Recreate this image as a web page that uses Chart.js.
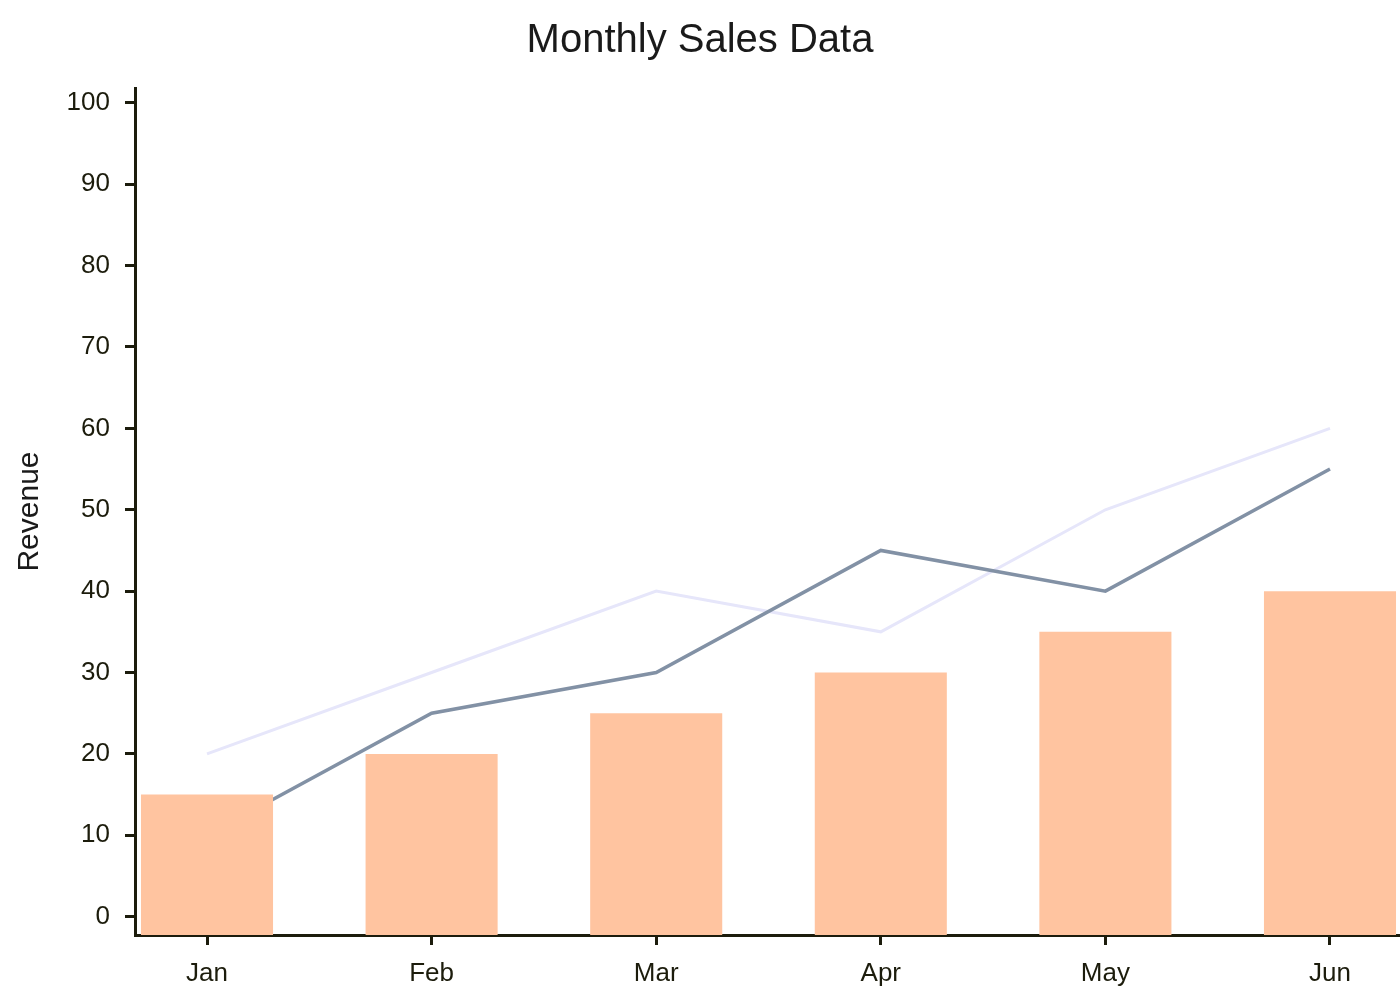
<!DOCTYPE html>
<html lang="en">
<head>
  <meta charset="UTF-8">
  <title>Monthly Sales Data</title>
  <style>
    body { margin: 0; background: #fff; }
    #wrap { width: 1400px; height: 1000px; }
  </style>
  <script src="https://cdn.jsdelivr.net/npm/chart.js"></script>
</head>
<body>
  <div id="wrap"><canvas id="chart" width="1400" height="1000"></canvas></div>
  <script>
    const months = ['Jan', 'Feb', 'Mar', 'Apr', 'May', 'Jun'];
    const barValues = [15, 20, 25, 30, 35, 40];
    const darkLine = [10, 25, 30, 45, 40, 55];
    const lightLine = [20, 30, 40, 35, 50, 60];
    const yTicks = [0, 10, 20, 30, 40, 50, 60, 70, 80, 90, 100];

    const yMin = -2.25, yMax = 101.82;
    const xMin = -0.3206, xMax = 5.3117;
    const ink = '#1c1c0c';
    const font = "'Liberation Sans', Arial, Helvetica, sans-serif";

    const toPoints = arr => arr.map((v, i) => ({ x: i, y: v }));

    new Chart(document.getElementById('chart').getContext('2d'), {
      type: 'bar',
      data: {
        datasets: [
          {
            type: 'bar',
            label: 'Sales',
            data: toPoints(barValues),
            backgroundColor: '#ffc4a0',
            base: yMin,
            categoryPercentage: 1,
            barPercentage: 0.588,
            order: 0
          },
          {
            type: 'line',
            label: 'Revenue A',
            data: toPoints(darkLine),
            borderColor: '#8291a5',
            borderWidth: 3.5,
            pointRadius: 0,
            tension: 0,
            order: 1
          },
          {
            type: 'line',
            label: 'Revenue B',
            data: toPoints(lightLine),
            borderColor: '#e6e6fa',
            borderWidth: 3,
            pointRadius: 0,
            tension: 0,
            order: 2
          }
        ]
      },
      options: {
        responsive: false,
        animation: false,
        layout: { padding: 0 },
        plugins: {
          legend: { display: false },
          tooltip: { enabled: false },
          title: {
            display: true,
            text: 'Monthly Sales Data',
            color: '#1a1a1a',
            font: { family: font, size: 40, weight: 'normal', lineHeight: 1.2 },
            padding: { top: 17, bottom: 23 }
          }
        },
        scales: {
          x: {
            type: 'linear',
            min: xMin,
            max: xMax,
            offset: false,
            afterBuildTicks: s => { s.ticks = months.map((m, i) => ({ value: i })); },
            afterFit: s => { s.height = 65; },
            grid: { offset: false, drawOnChartArea: false, drawTicks: true, tickLength: 10, color: ink, lineWidth: 3 },
            border: { display: true, color: ink, width: 3 },
            ticks: {
              color: ink,
              padding: 13,
              maxRotation: 0,
              font: { family: font, size: 26 },
              callback: v => months[v]
            }
          },
          y: {
            type: 'linear',
            min: yMin,
            max: yMax,
            afterBuildTicks: s => { s.ticks = yTicks.map(v => ({ value: v })); },
            afterFit: s => { s.width = 135; },
            grid: { drawOnChartArea: false, drawTicks: true, tickLength: 10, color: ink, lineWidth: 3 },
            border: { display: true, color: ink, width: 3 },
            ticks: {
              color: ink,
              padding: 15,
              font: { family: font, size: 26 }
            },
            title: {
              display: true,
              text: 'Revenue',
              color: '#1a1a1a',
              font: { family: font, size: 30, lineHeight: 1.2 },
              padding: { top: 12, bottom: 0 }
            }
          }
        }
      }
    });
  </script>
</body>
</html>
